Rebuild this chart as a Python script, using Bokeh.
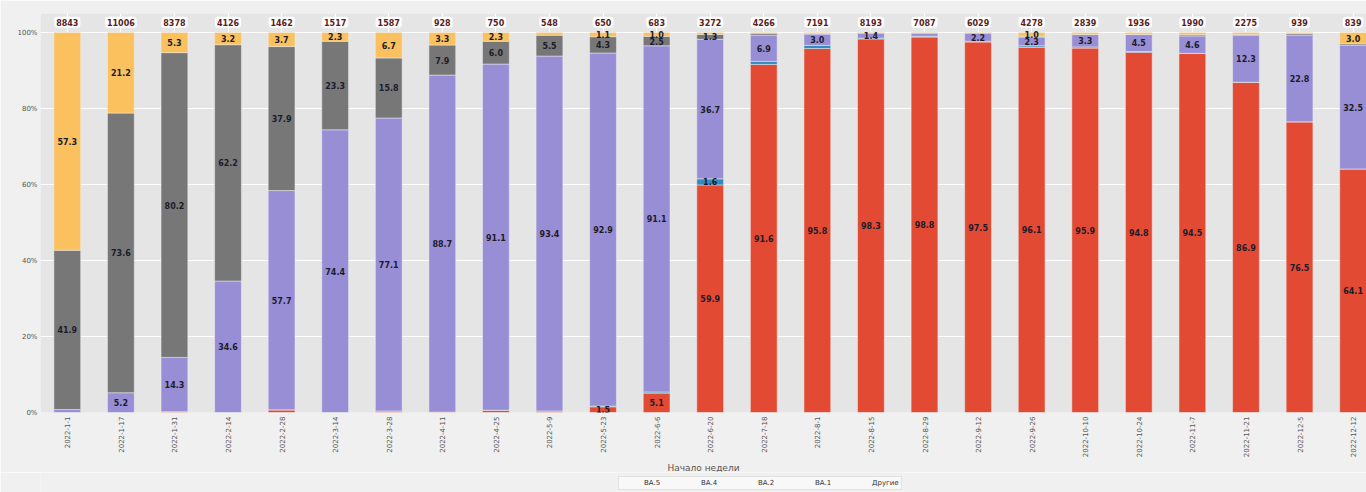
from bokeh.plotting import figure
from bokeh.layouts import column
from bokeh.models import ColumnDataSource, Range1d, FixedTicker, Legend, LegendItem, Title
from bokeh.core.properties import value
from bokeh.embed import file_html
from bokeh.resources import INLINE

weeks = ["2022-1-1", "2022-1-17", "2022-1-31", "2022-2-14", "2022-2-28", "2022-3-14",
         "2022-3-28", "2022-4-11", "2022-4-25", "2022-5-9", "2022-5-23", "2022-6-6",
         "2022-6-20", "2022-7-18", "2022-8-1", "2022-8-15", "2022-8-29", "2022-9-12",
         "2022-9-26", "2022-10-10", "2022-10-24", "2022-11-7", "2022-11-21", "2022-12-5",
         "2022-12-12"]
totals = [8843, 11006, 8378, 4126, 1462, 1517, 1587, 928, 750, 548, 650, 683, 3272,
          4266, 7191, 8193, 7087, 6029, 4278, 2839, 1936, 1990, 2275, 939, 839]

ba5 = [0.0, 0.0, 0.2, 0.0, 0.7, 0.0, 0.4, 0.1, 0.6, 0.4, 1.5, 5.1, 59.9, 91.6, 95.8,
       98.3, 98.8, 97.5, 96.1, 95.9, 94.8, 94.5, 86.9, 76.5, 64.1]
ba4 = [0.0, 0.0, 0.0, 0.0, 0.0, 0.0, 0.0, 0.0, 0.0, 0.0, 0.2, 0.3, 1.6, 0.8, 0.8,
       0.2, 0.2, 0.2, 0.4, 0.3, 0.2, 0.0, 0.0, 0.0, 0.0]
ba2 = [0.8, 5.2, 14.3, 34.6, 57.7, 74.4, 77.1, 88.7, 91.1, 93.4, 92.9, 91.1, 36.7, 6.9,
       3.0, 1.4, 0.9, 2.2, 2.3, 3.3, 4.5, 4.6, 12.3, 22.8, 32.5]
ba1 = [41.9, 73.6, 80.2, 62.2, 37.9, 23.3, 15.8, 7.9, 6.0, 5.5, 4.3, 2.5, 1.3, 0.5, 0.1,
       0.0, 0.0, 0.0, 0.2, 0.0, 0.0, 0.3, 0.3, 0.4, 0.4]
other = [57.3, 21.2, 5.3, 3.2, 3.7, 2.3, 6.7, 3.3, 2.3, 0.7, 1.1, 1.0, 0.5, 0.2, 0.3,
         0.1, 0.1, 0.1, 1.0, 0.5, 0.5, 0.6, 0.5, 0.3, 3.0]

series_names = ["BA.5", "BA.4", "BA.2", "BA.1", "Другие"]
series_keys = ["ba5", "ba4", "ba2", "ba1", "other"]
series_colors = ["#E24A33", "#348ABD", "#988ED5", "#777777", "#FBC15E"]

xs = list(range(len(weeks)))
src = ColumnDataSource(dict(x=xs, ba5=ba5, ba4=ba4, ba2=ba2, ba1=ba1, other=other))

p = figure(width=1366, height=472, x_range=Range1d(-0.5, 24.25),
           y_range=Range1d(0, 105),
           output_backend="svg", toolbar_location=None,
           min_border_left=40, min_border_right=0, min_border_top=13, min_border_bottom=0)
p.background_fill_color = "#E5E5E5"
p.border_fill_color = "#F0F0F0"
p.outline_line_color = None

renderers = p.vbar_stack(series_keys, x="x", width=0.5, source=src,
                         color=series_colors, line_color="#EEEEEE", line_width=0.5)

# segment labels
lx, ly, lt = [], [], []
for i in xs:
    base = 0.0
    for arr in (ba5, ba4, ba2, ba1, other):
        v = arr[i]
        if v >= 1.0:
            lx.append(i)
            ly.append(base + v / 2)
            lt.append(f"{v:.1f}")
        base += v
p.text(x=lx, y=ly, text=lt, text_align="center", text_baseline="middle",
       text_font=value("DejaVu Sans"), text_font_size="8px", text_font_style="bold",
       text_color="#1c1c2a")

# totals on top
p.text(x=xs, y=[102.7] * len(xs), text=[str(t) for t in totals], text_align="center",
       text_baseline="middle", text_font=value("DejaVu Sans"), text_font_size="8px",
       text_font_style="bold", text_color="#5a1e22",
       background_fill_color="white", background_fill_alpha=0.9,
       padding=2, border_radius=3)

# axes
p.xaxis.ticker = FixedTicker(ticks=xs)
p.xaxis.major_label_overrides = {i: w for i, w in enumerate(weeks)}
p.xaxis.major_label_orientation = 1.5708
p.xaxis.major_label_text_font_size = "7px"
p.xaxis.major_label_text_font = "DejaVu Sans"
p.xaxis.major_label_text_color = "#555555"
p.xaxis.major_label_standoff = 4

p.yaxis.ticker = FixedTicker(ticks=[0, 20, 40, 60, 80, 100])
p.yaxis.major_label_overrides = {0: "0%", 20: "20%", 40: "40%", 60: "60%", 80: "80%", 100: "100%"}
p.yaxis.major_label_text_font_size = "7px"
p.yaxis.major_label_text_font = "DejaVu Sans"
p.yaxis.major_label_text_color = "#555555"
p.yaxis.major_label_standoff = 3

for ax in (p.xaxis, p.yaxis):
    ax.axis_line_color = None
    ax.major_tick_line_color = None
    ax.minor_tick_line_color = None
    ax.major_tick_out = 0
    ax.major_tick_in = 0
    ax.minor_tick_out = 0
    ax.minor_tick_in = 0

p.xgrid.ticker = FixedTicker(ticks=xs)
p.xgrid.grid_line_color = "white"
p.ygrid.ticker = FixedTicker(ticks=[0, 20, 40, 60, 80, 100])
p.ygrid.grid_line_color = "white"
p.grid.grid_line_width = 1

xlabel = Title(text="Начало недели", align="center", text_font="DejaVu Sans",
               text_font_size="9px", text_font_style="normal", text_color="#555555",
               standoff=0, offset=0)
p.add_layout(xlabel, "below")

# legend strip below the chart
lg = figure(width=1366, height=20, x_range=Range1d(0, 1), y_range=Range1d(0, 1),
            output_backend="svg", toolbar_location=None,
            min_border_left=0, min_border_right=0, min_border_top=0, min_border_bottom=0)
lg.axis.visible = False
lg.grid.visible = False
lg.outline_line_color = None
lg.background_fill_color = "#F0F0F0"
lg.border_fill_color = "#F0F0F0"
key_renderers = [lg.vbar(x=[], top=[], width=0.5, color=c) for c in series_colors]
items = [LegendItem(label=n, renderers=[r]) for n, r in zip(series_names, key_renderers)]
legend = Legend(items=items, orientation="horizontal", location=(578, 2),
                label_text_font="DejaVu Sans", label_text_font_size="7px",
                label_text_color="#333333", glyph_width=18, glyph_height=4,
                label_height=8, label_standoff=5, spacing=14, padding=2, margin=0,
                background_fill_color="#F8F8F8", background_fill_alpha=1.0,
                border_line_color="#CCCCCC", border_line_width=1)
lg.add_layout(legend, "center")

layout = column(p, lg, spacing=0)
open("out.html", "w").write(file_html(layout, INLINE))
